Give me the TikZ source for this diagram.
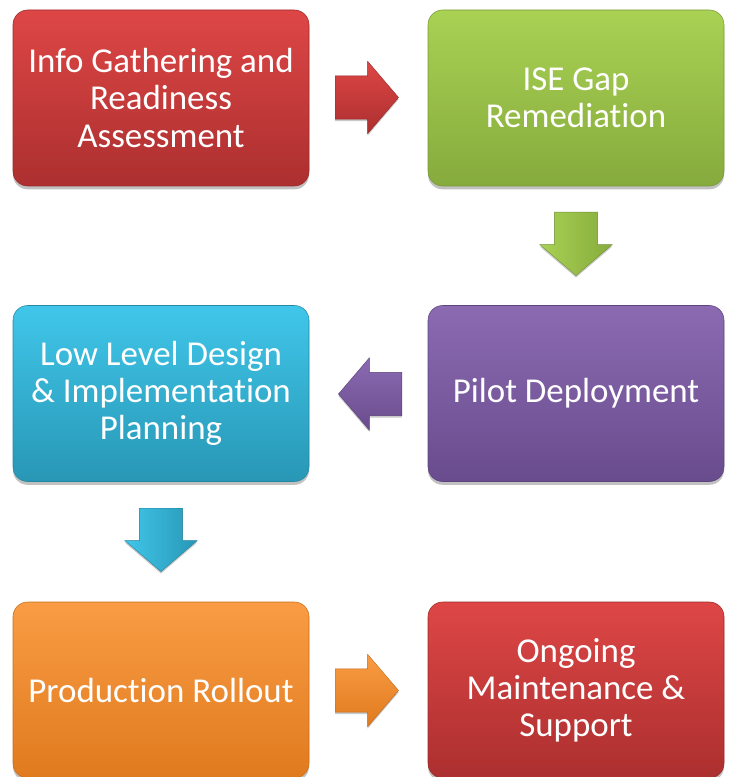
\documentclass[tikz,border=0pt]{standalone}
\usepackage{fontspec}
\setmainfont{Carlito}[Ligatures=NoCommon]
\usetikzlibrary{shapes.arrows,shadows}
\definecolor{redT}{HTML}{DE4646}
\definecolor{redB}{HTML}{AC2F2F}
\definecolor{grnT}{HTML}{A9D153}
\definecolor{grnB}{HTML}{86AB3D}
\definecolor{purT}{HTML}{8B6AB2}
\definecolor{purB}{HTML}{694C8D}
\definecolor{cynT}{HTML}{40C6EA}
\definecolor{cynB}{HTML}{2897B5}
\definecolor{orgT}{HTML}{F99C44}
\definecolor{orgB}{HTML}{E07A1E}
\tikzset{
  stagebox/.style n args={2}{rectangle, rounded corners=11pt,
    minimum width=222pt, minimum height=132pt, align=center,
    text=white, font=\fontsize{26.2}{27.9}\selectfont,
    top color=#1, bottom color=#2, draw=#2!90!black, line width=0.4pt,
    drop shadow={opacity=0.35, shadow xshift=0pt, shadow yshift=-2.5pt, fill=black!70}},
  arrowbase/.style n args={2}{single arrow, anchor=tail, inner sep=0pt,
    minimum height=47.5pt, single arrow head extend=10.9pt, single arrow tip angle=99,
    top color=#1, bottom color=#2,
    draw=#2!85!black, line width=0.3pt,
    drop shadow={opacity=0.3, shadow xshift=0pt, shadow yshift=-1.5pt, fill=black!70}},
  harrow/.style n args={3}{arrowbase={#1}{#2}, inner ysep=16.1pt, shape border rotate=#3},
  varrow/.style n args={2}{arrowbase={#1}{#2}, inner xsep=16.1pt, shape border rotate=270,
    left color=#1, right color=#2}
}
\begin{document}
\begin{tikzpicture}[x=0.75pt,y=-0.75pt]
\useasboundingbox (0,0) rectangle (733,777);
\node[stagebox={redT}{redB}] (info) at (161,98) {Info Gathering and\\Readiness\\Assessment};
\node[stagebox={grnT}{grnB}] (ise) at (576,98) {ISE Gap\\Remediation};
\node[stagebox={cynT}{cynB}] (lld) at (161,393.5) {Low Level Design\\\&~Implementation\\Planning};
\node[stagebox={purT}{purB}] (pilot) at (576,393.5) {Pilot Deployment};
\node[stagebox={orgT}{orgB}] (prod) at (161,690) {Production Rollout};
\node[stagebox={redT}{redB}] (ongo) at (576,690) {Ongoing\\Maintenance \&\\Support};
% block arrows
\node[harrow={redT}{redB}{0}] (a1) at (335,97.5) {};
\node[varrow={grnT}{grnB}] (a2) at (576,212) {};
\node[harrow={purT}{purB}{180}] (a3) at (402,394) {};
\node[varrow={cynT}{cynB}] (a4) at (161,508) {};
\node[harrow={orgT}{orgB}{0}] (a5) at (335,690.5) {};
\end{tikzpicture}
\end{document}
